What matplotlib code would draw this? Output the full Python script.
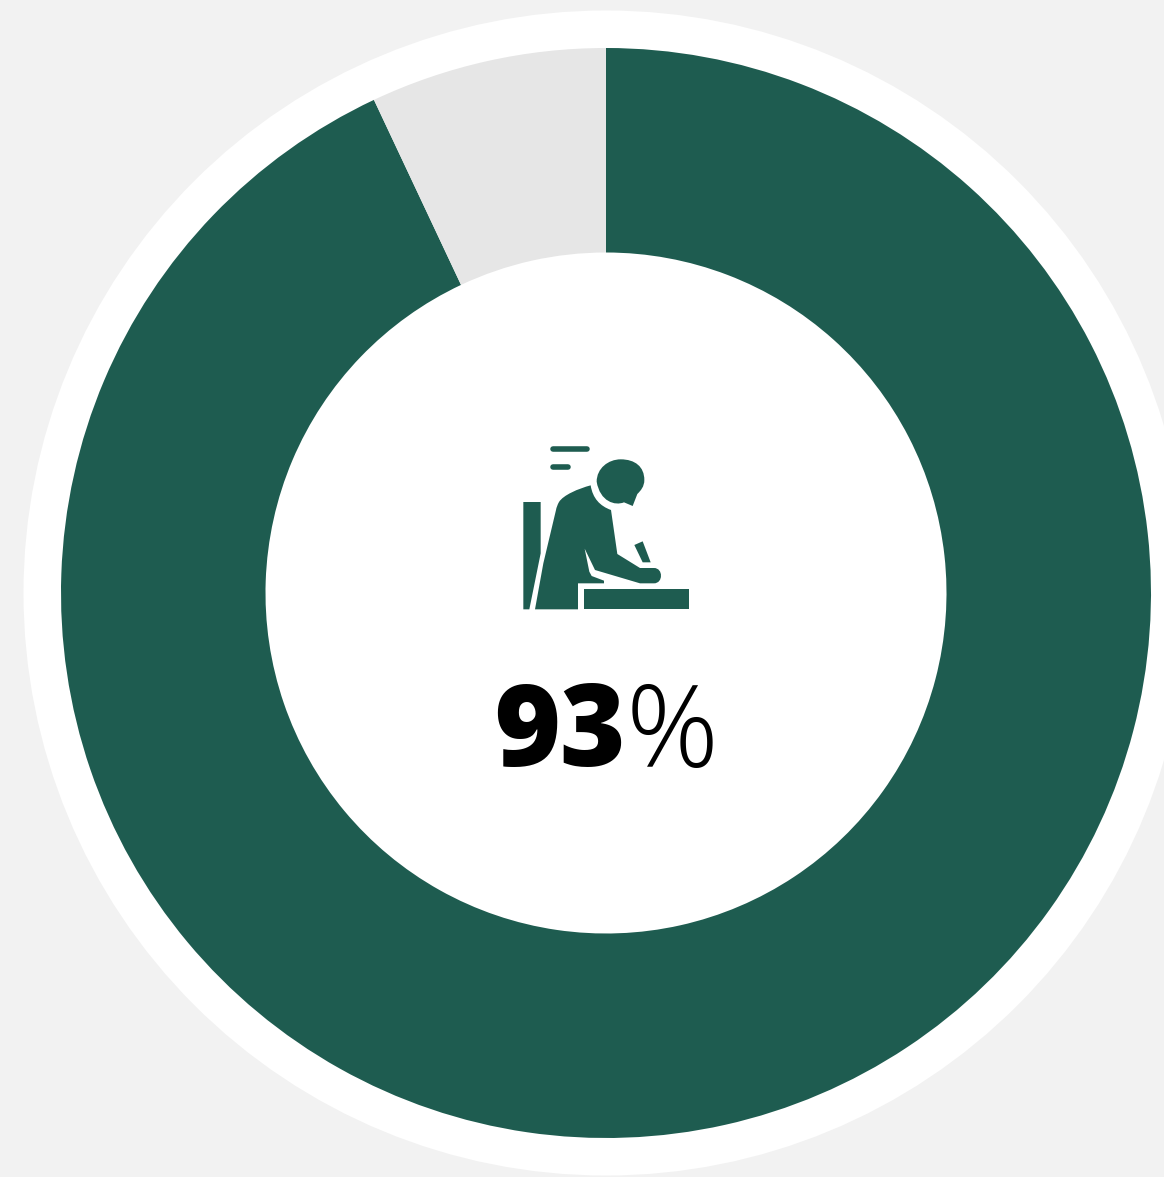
import matplotlib
matplotlib.use("Agg")
import matplotlib.pyplot as plt
from matplotlib.patches import Circle, Polygon, PathPatch
from matplotlib.path import Path

W, H = 1164, 1177
labels = ["Yes", "No"]
values = [93, 7]
big_value = "93"
unit = "%"

GREEN = "#1e5c50"
GREY = "#e6e6e6"
BG = "#f2f2f2"
CX, CY = 606, 593


def fy(y):
    return H - y


def z(points):
    # icon outline: zoom-crop coordinates -> page pixels
    return [(500 + x / 3, fy(430 + y / 3)) for x, y in points]


def outline(cmds):
    verts, codes = [], []
    for kind, pts in cmds:
        code = {"M": Path.MOVETO, "L": Path.LINETO, "C": Path.CURVE4, "Q": Path.CURVE3}[kind]
        verts.extend(z(pts))
        codes.extend([code] * len(pts))
    verts.append(verts[0])
    codes.append(Path.CLOSEPOLY)
    return Path(verts, codes)


fig = plt.figure(figsize=(W / 100, H / 100), dpi=100, facecolor=BG)
ax = fig.add_axes([0, 0, 1, 1])

ax.add_patch(Circle((CX, fy(CY)), 582.5, fc="white", ec="none", zorder=1))
wedges, _ = ax.pie(values, colors=[GREEN, GREY], startangle=90, counterclock=False,
                   radius=545, center=(CX, fy(CY)), wedgeprops=dict(width=204.5, linewidth=0),
                   frame=True)
for w in wedges:
    w.set_zorder(2)
ax.set_xlim(0, W)
ax.set_ylim(0, H)
ax.set_aspect("auto")
ax.axis("off")

head = [("M", [(372, 217)]),
        ("C", [(345, 228), (300, 215), (290, 155)]),
        ("C", [(290, 115), (325, 88), (362, 88)]),
        ("C", [(405, 88), (433, 110), (433, 150)]),
        ("C", [(433, 170), (422, 182), (412, 192)]),
        ("L", [(398, 228)])]
body = [("M", [(272, 166)]),
        ("C", [(235, 176), (190, 195), (177, 216)]),
        ("Q", [(170, 228), (168, 240)]),
        ("L", [(130, 400), (105, 538), (234, 538), (234, 460), (312, 460), (312, 452),
               (275, 438), (268, 425), (254, 356), (285, 420), (420, 460), (462, 460)]),
        ("C", [(490, 460), (490, 414), (462, 414)]),
        ("L", [(420, 414), (352, 372), (333, 240)]),
        ("C", [(300, 228), (278, 205), (272, 166)])]
for cmds in (head, body):
    ax.add_patch(PathPatch(outline(cmds), fc=GREEN, ec="none", zorder=3))

chair = [(70, 216), (122, 216), (122, 370), (88, 538), (70, 538)]
pen = [(403, 345), (428, 334), (452, 397), (428, 397)]
desk = [(252, 478), (566, 478), (566, 538), (252, 538)]
for pts in (chair, pen, desk):
    ax.add_patch(Polygon(z(pts), closed=True, fc=GREEN, ec="none", zorder=3))
for (x0, x1, y) in ((150, 267, 58), (151, 212, 110)):
    ax.plot([500 + x0 / 3 + 2.5, 500 + x1 / 3 - 2.5], [fy(430 + y / 3)] * 2, color=GREEN, lw=4.0,
            solid_capstyle="round", zorder=3)

ax.text(494, fy(766), big_value, family="Open Sans", fontweight=800, fontsize=81, color="black",
        ha="left", va="baseline", zorder=4)
ax.text(625.5, fy(767), unit, family="Open Sans", fontweight=300, fontsize=83, color="black",
        ha="left", va="baseline", zorder=4)

fig.savefig("out.png", dpi=100, facecolor=BG)
